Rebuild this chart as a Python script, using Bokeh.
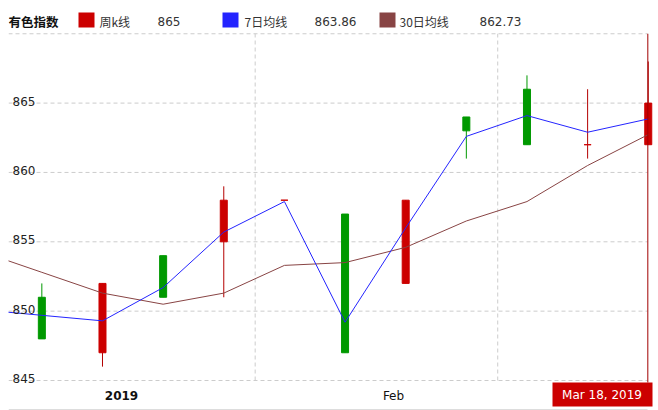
import pandas as pd
from bokeh.plotting import figure
from bokeh.models import Range1d, ColumnDataSource, Grid
from bokeh.core.properties import value
from bokeh.embed import file_html
from bokeh.resources import INLINE

# ---------------- data ----------------
candle_dates = ["2019-01-07", "2019-01-14", "2019-01-21", "2019-01-28", "2019-02-04",
                "2019-02-11", "2019-02-18", "2019-02-25", "2019-03-04", "2019-03-11",
                "2019-03-18"]
open_ = [851, 847, 854, 855, 858, 857, 852, 864, 866, 862, 862]
high = [852, 852, 854, 859, 858, 857, 858, 864, 867, 866, 868]
low = [848, 846, 851, 851, 858, 847, 852, 861, 862, 861, 862]
close = [848, 852, 851, 858, 858, 847, 858, 863, 862, 862, 865]

ma_dates = ["2018-12-31"] + candle_dates
ma7 = [850.1, 849.7, 849.3, 851.7, 855.7, 857.9, 849.2, 856.0, 862.6, 864.1, 862.9, 863.86]
ma30 = [854.3, 852.8, 851.3, 850.5, 851.3, 853.3, 853.5, 854.6, 856.5, 857.9, 860.5, 862.73]

y_ticks = [845, 850, 855, 860, 865, 870]
month_grid = ["2019-02-01", "2019-03-01"]
x_labels = ["2019", "Feb"]
legend_title = "有色指数"
legend_names = ["周k线", "7日均线", "30日均线"]
legend_values = ["865", "863.86", "862.73"]
cursor_date = "2019-03-18"
cursor_label = "Mar 18, 2019"

# ---------------- styling / pixel helpers ----------------
UP = "#cc0000"
UP_WICK = "#b40000"
DOWN = "#009900"
BLUE = "#2424ff"
BROWN = "#884444"
GRID = "#cccccc"
LATIN = value("DejaVu Sans")
CJK = value("Noto Sans CJK SC")

DAY = 86400000
SHIFT = 9 * 3600000  # candles sit slightly after midnight of their date


def ts(s):
    return pd.Timestamp(s).value // 10**6


ANCHOR = ts("2019-02-11")
ANCHOR_PX = 341.3
DAY_PX = 8.663
BASE_PX = 380.0   # pixel row of 845
Y_PX = 13.87


def xs(px):
    return ANCHOR + (px - ANCHOR_PX) / DAY_PX * DAY


def ys(py):
    return y_ticks[0] + (BASE_PX - py) / Y_PX


W, H = 658, 410
LEFT = 8
RIGHT_PX = 647
p = figure(width=W, height=H,
           x_range=Range1d(xs(LEFT), xs(W)), y_range=Range1d(ys(H), ys(0)),
           x_axis_location=None, y_axis_location=None,
           toolbar_location=None, tools="", output_backend="svg",
           min_border_left=LEFT, min_border_right=0, min_border_top=0, min_border_bottom=0,
           outline_line_color=None, background_fill_color="white",
           border_fill_color="white")
# drop any default grids
p.center = [r for r in p.center if not isinstance(r, Grid)]

# horizontal grid lines
n = len(y_ticks)
p.segment(x0=[xs(LEFT)] * n, y0=y_ticks, x1=[xs(RIGHT_PX)] * n, y1=y_ticks,
          line_color=GRID, line_dash="4 3", line_width=1)
# vertical month grid lines (only between 845 and 870)
mg = [ts(d) for d in month_grid]
p.segment(x0=mg, y0=[y_ticks[0]] * len(mg), x1=mg, y1=[y_ticks[-1]] * len(mg),
          line_color=GRID, line_dash="4 3", line_width=1)
# bottom separator
p.segment(x0=[xs(LEFT)], y0=[ys(409)], x1=[xs(RIGHT_PX)], y1=[ys(409)],
          line_color="#dddddd", line_width=1)

# candles
cx = [ts(d) + SHIFT for d in candle_dates]
body_col = [UP if c >= o else DOWN for o, c in zip(open_, close)]
wick_col = [UP_WICK if c >= o else DOWN for o, c in zip(open_, close)]
src = ColumnDataSource(dict(x=cx, top=[max(o, c) for o, c in zip(open_, close)],
                            bottom=[min(o, c) for o, c in zip(open_, close)],
                            high=high, low=low, body=body_col, wick=wick_col))
p.segment(x0="x", y0="low", x1="x", y1="high", line_color="wick", line_width=1, source=src)
p.vbar(x="x", top="top", bottom="bottom", width=7 / DAY_PX * DAY,
       fill_color="body", line_color="body", line_width=1, source=src)

# moving averages
mx = [ts(d) + SHIFT for d in ma_dates]
p.line(mx, ma30, line_color=BROWN, line_width=1)
p.line(mx, ma7, line_color=BLUE, line_width=1)

# y labels inside plot
p.text(x=[xs(12)] * (n - 1), y=y_ticks[:-1], text=[str(t) for t in y_ticks[:-1]],
       text_font=LATIN, text_font_size="12px", text_color="#222222",
       text_align="left", text_baseline="alphabetic", y_offset=-2)

# x labels
p.text(x=[xs(121)], y=[ys(395)], text=[x_labels[0]], text_font=LATIN, text_font_size="12px",
       text_font_style="bold", text_color="#111111", text_align="center", text_baseline="middle")
p.text(x=[xs(393)], y=[ys(395)], text=[x_labels[1]], text_font=LATIN, text_font_size="12px",
       text_color="#111111", text_align="center", text_baseline="middle")

# cursor
cur = ts(cursor_date) + SHIFT - 0.05 * DAY
p.segment(x0=[cur], y0=[y_ticks[-1]], x1=[cur], y1=[ys(382)], line_color="#a00000", line_width=1)
p.rect(x=[xs(602)], y=[ys(394)], width=100, height=24, width_units="screen", height_units="screen",
       fill_color=UP, line_color=None)
p.text(x=[xs(601.5)], y=[ys(394)], text=[cursor_label], text_font=LATIN, text_font_size="12px",
       text_color="white", text_align="center", text_baseline="middle")

# legend
LY = ys(21)
p.text(x=[xs(8)], y=[LY], text=[legend_title], text_font=CJK, text_font_size="12.5px",
       text_font_style="bold", text_color="#111111", text_align="left", text_baseline="middle")
sw_px = [86, 230, 387]
name_px = [99, 244, 399]
val_px = [157, 314, 479]
p.rect(x=[xs(v) for v in sw_px], y=[ys(19.5)] * 3, width=16, height=15,
       width_units="screen", height_units="screen", fill_color=[UP, BLUE, BROWN], line_color=None)
p.text(x=[xs(v) for v in name_px], y=[LY] * 3, text=legend_names, text_font=CJK,
       text_font_size="12px", text_color="#333333", text_align="left", text_baseline="middle")
p.text(x=[xs(v) for v in val_px], y=[LY] * 3, text=legend_values, text_font=LATIN,
       text_font_size="12px", text_color="#333333", text_align="left", text_baseline="middle")

open("out.html", "w").write(file_html(p, INLINE))
